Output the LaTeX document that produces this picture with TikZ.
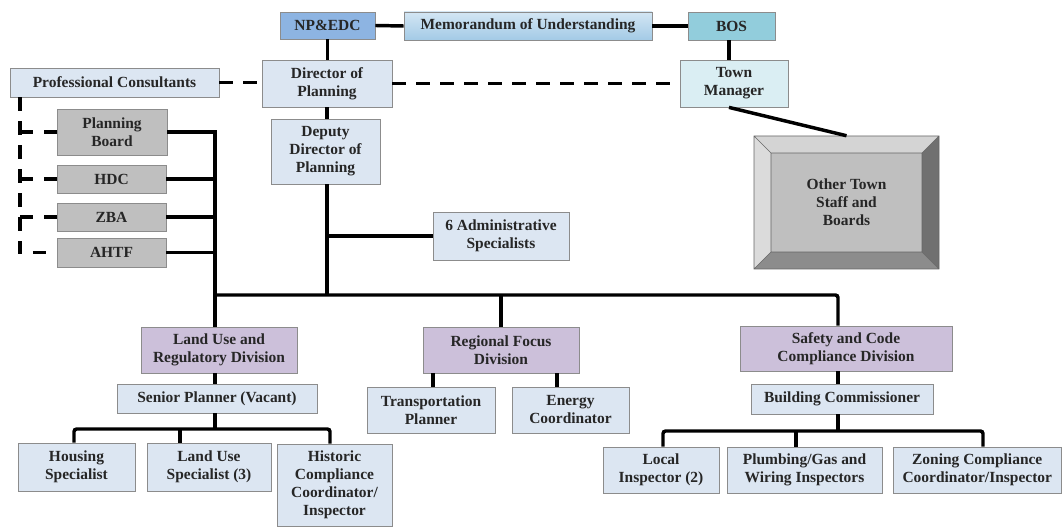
\documentclass[tikz,border=0pt]{standalone}
\usepackage{fontspec}
\setmainfont{Liberation Serif}
\definecolor{txt}{HTML}{262626}
\definecolor{npblue}{HTML}{8DB4E2}
\definecolor{moutop}{HTML}{D3E6F4}
\definecolor{moubot}{HTML}{A3CAE6}
\definecolor{bosc}{HTML}{92CDDC}
\definecolor{pale}{HTML}{DCE6F2}
\definecolor{palecyan}{HTML}{DAEEF3}
\definecolor{grayb}{HTML}{BFBFBF}
\definecolor{purp}{HTML}{CCC0DA}
\definecolor{edge}{HTML}{8C8C8C}
\tikzset{
  box/.style={draw=edge, line width=0.6pt, inner sep=0pt, align=center,
    text=txt, font=\bfseries\fontsize{11.6}{13.5}\selectfont},
  link/.style={line width=2.6pt, black},
  dlink/.style={line width=2.6pt, black, dash pattern=on 10pt off 8pt},
}
\newcommand\bx[7]{\node[box,#6, minimum width={(#4-#2)*0.75pt}, minimum height={(#5-#3)*0.75pt}] (#1) at ({(#2+#4)/2},{(#3+#5)/2}) {#7};}
\begin{document}
\begin{tikzpicture}[x=0.75pt,y=-0.75pt]
\useasboundingbox (0,0) rectangle (1063,527);
% top row
\bx{np}{280}{12}{375}{39}{fill=npblue}{NP\&EDC}
\bx{mou}{404}{12}{652}{40}{top color=moutop,bottom color=moubot}{Memorandum of Understanding}
\bx{bos}{688}{12}{775}{40}{fill=bosc}{BOS}
\bx{dir}{262}{60}{392}{107}{fill=pale}{Director of\\Planning}
\bx{tm}{680}{60}{788}{107}{fill=palecyan}{Town\\Manager}
\bx{pc}{10}{68}{219}{97}{fill=pale}{Professional Consultants}
% boards
\bx{pb}{57}{109}{167}{155}{fill=grayb}{Planning\\Board}
\bx{hdc}{57}{165}{166}{193}{fill=grayb}{HDC}
\bx{zba}{57}{203}{166}{231}{fill=grayb}{ZBA}
\bx{ahtf}{57}{238}{166}{267}{fill=grayb}{AHTF}
\bx{dep}{271}{119}{380}{184}{fill=pale}{Deputy\\Director of\\Planning}
\bx{adm}{433}{212}{569}{260}{fill=pale}{6 Administrative\\Specialists}
% other town staff (bevel)
\node[inner sep=0pt, minimum width={185*0.75pt}, minimum height={133*0.75pt}] (ots) at (846.5,202.5) {};
\fill[fill=black!17] (754,136) -- (939,136) -- (922,153) -- (771,153) -- cycle;
\fill[fill=black!14] (754,136) -- (771,153) -- (771,252) -- (754,269) -- cycle;
\fill[fill=black!56] (939,136) -- (922,153) -- (922,252) -- (939,269) -- cycle;
\fill[fill=black!45] (754,269) -- (771,252) -- (922,252) -- (939,269) -- cycle;
\fill[fill=grayb] (771,153) rectangle (922,252);
\draw[black!60, line width=0.5pt] (754,136) rectangle (939,269) (771,153) rectangle (922,252)
  (754,136) -- (771,153) (939,136) -- (922,153) (939,269) -- (922,252) (754,269) -- (771,252);
\node[box, draw=none, text=txt] at (ots) {Other Town\\Staff and\\Boards};
% divisions
\bx{lu}{141}{327}{297}{373}{fill=purp}{Land Use and\\Regulatory Division}
\bx{sp}{117}{384}{317}{413}{fill=pale}{Senior Planner (Vacant)}
\bx{hs}{18}{443}{135}{491}{fill=pale}{Housing\\Specialist}
\bx{lus}{147}{443}{271}{491}{fill=pale}{Land Use\\Specialist (3)}
\bx{hist}{277}{444}{392}{526.5}{fill=pale}{Historic\\Compliance\\Coordinator/\\Inspector}
\bx{rf}{423}{327}{579}{373}{fill=purp}{Regional Focus\\Division}
\bx{tp}{367}{387}{495}{433}{fill=pale}{Transportation\\Planner}
\bx{ec}{512}{387}{629}{433}{fill=pale}{Energy\\Coordinator}
\bx{sc}{740}{326}{952}{371}{fill=purp}{Safety and Code\\Compliance Division}
\bx{bc}{751}{384}{933}{414}{fill=pale}{Building Commissioner}
\bx{li}{603}{447}{719}{493}{fill=pale}{Local\\Inspector (2)}
\bx{pg}{727}{447}{882}{493}{fill=pale}{Plumbing/Gas and\\Wiring Inspectors}
\bx{zc}{893}{447}{1061.5}{493}{fill=pale}{Zoning Compliance\\Coordinator/Inspector}
% helper coordinates
\coordinate (dv) at (20,0);
\coordinate (sv) at (215,295);
\coordinate (scx) at (838,0);
\coordinate (b2) at (215,429);
\coordinate (d1) at (74,0);
\coordinate (d2) at (180,0);
\coordinate (d3) at (330,0);
\coordinate (t1) at (433,0);
\coordinate (t2) at (557,0);
\coordinate (b3) at (838,431);
\coordinate (e1) at (663,0);
\coordinate (e2) at (796,0);
\coordinate (e3) at (983,0);
% top links
\draw[link] (np.east) -- (mou.west);
\draw[link] (mou.east) -- (bos.west);
\draw[link] (np.south) -- (np.south |- dir.north);
\draw[link] (bos.south -| tm.north) ++(-5,0) -- ++(0,20);
\draw[dlink] (dir.east) -- (tm.west);
\draw[dlink] (pc.east) -- (pc.east -| dir.west);
\draw[link] (dir.south) -- (dir.south |- dep.north);
\draw[link] (tm.south) ++(-5,0) -- (ots.north);
% consultants dashed
\draw[dlink, dash phase=0pt] (dv |- pc.south) -- (dv |- ahtf.west) -- (ahtf.west);
\draw[dlink] (dv |- pb.west) -- (pb.west);
\draw[dlink] (dv |- hdc.west) -- (hdc.west);
\draw[dlink] (dv |- zba.west) -- (zba.west);
% boards solid
\draw[link] (pb.east) -- (sv |- pb.east) -- (sv |- lu.north);
\draw[link] (hdc.east) -- (sv |- hdc.east);
\draw[link] (zba.east) -- (sv |- zba.east);
\draw[link] (ahtf.east) -- (sv |- ahtf.east);
% deputy and bus
\draw[link] (dir.south |- dep.south) -- (dir.south |- sv);
\draw[link] (dir.south |- adm.west) -- (adm.west);
\draw[link, rounded corners=2pt] (sv) -- (scx |- sv) -- (scx |- sc.north);
\draw[link] (rf.north |- sv) -- (rf.north);
% land use
\draw[link] (sv |- lu.south) -- (sv |- sp.north);
\draw[link] (sv |- sp.south) -- (b2);
\draw[link, rounded corners=2pt] (d1 |- hs.north) -- (d1 |- b2) -- (d3 |- b2) -- (d3 |- hist.north);
\draw[link] (d2 |- b2) -- (d2 |- lus.north);
% regional
\draw[link] (t1 |- rf.south) -- (t1 |- tp.north);
\draw[link] (t2 |- rf.south) -- (t2 |- ec.north);
% safety
\draw[link] (scx |- sc.south) -- (scx |- bc.north);
\draw[link] (scx |- bc.south) -- (b3);
\draw[link, rounded corners=2pt] (e1 |- li.north) -- (e1 |- b3) -- (e3 |- b3) -- (e3 |- zc.north);
\draw[link] (e2 |- b3) -- (e2 |- pg.north);
\end{tikzpicture}
\end{document}
